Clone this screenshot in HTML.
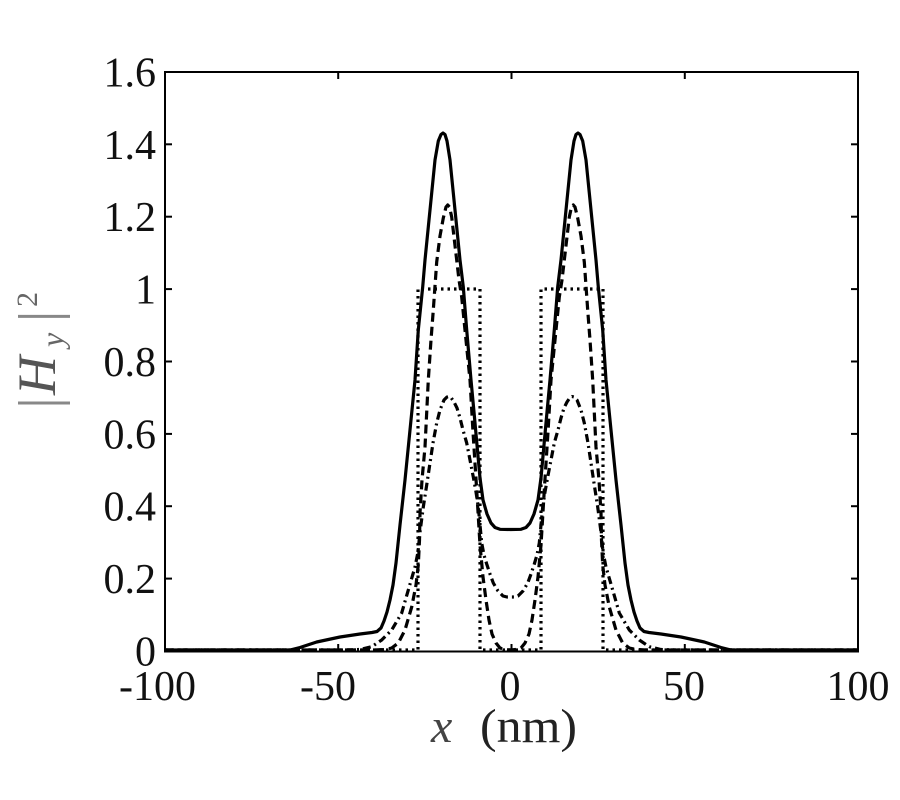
<!DOCTYPE html>
<html><head><meta charset="utf-8"><style>
html,body{margin:0;padding:0;background:#fff;}
svg{display:block;}
</style></head><body>
<svg width="900" height="800" viewBox="0 0 900 800" xmlns="http://www.w3.org/2000/svg">
<rect width="900" height="800" fill="#fff"/>
<g fill="none" stroke="#000" stroke-width="3.2" stroke-linejoin="round">
<!-- dotted -->
<path stroke-dasharray="2.5 4" d="M165,650 H418 V289 H480 V650 H541 V289 H603 V650 H858"/>
<!-- dash-dot -->
<polyline stroke-dasharray="8 4 2 4" points="165,650 345,650 360,649.5 371.7,646.7 381.7,640 391.7,630 401.7,613 408.3,590 415,567 418,552 420,532 423.3,507 426.7,485 430,463 433,443 436.7,423 440,410 444,400 447,397 449,396.5 451,397.5 454,402 457,408 460,418 463,430 466.7,443 470,460 473.3,477 476,492 478.3,507 480,525 481.7,543 484,555 486.7,564 490,574 493.3,583 498,591 503,596 507,597 510.5,597 514,597 518,596 523,591 527.7,583 531,574 534.3,564 537,555 539.3,543 541,525 542.7,507 545,492 547.7,477 551,460 554.3,443 558,430 561,418 564,408 567,402 570,397.5 572,396.5 574,397 577,400 581,410 584.3,423 588,443 591,463 594.3,485 597.7,507 601,532 603,552 606,567 612.7,590 619.3,613 629.3,630 639.3,640 649.3,646.7 661,649.5 676,650 858,650"/>
<!-- dashed -->
<polyline stroke-dasharray="9 5" points="165,650 375,650 385,649.5 391.7,648 398.3,643 405,630 411.7,607 416,585 418.3,565 419.5,540 420,513 422,480 425,447 428.3,380 431,340 433.3,310 436.7,262 440,236 443.3,218 446,207 447.7,205 449.5,207 451.7,217 454,237 456.7,260 459,280 461.7,297 466,340 470,380 473,432 476.7,490 480,545 483,577 486,600 489,620 492,634 496,643 500,648 505,649.5 510.5,650 516,649.5 521,648 525,643 529,634 532,620 535,600 538,577 541,545 544.3,490 548,432 551,380 555,340 559.3,297 562,280 564.3,260 567,237 569.3,217 571.5,207 573.3,205 575,207 577.7,218 581,236 584.3,262 587.7,310 590,340 592.7,380 596,447 599,480 601,513 601.5,540 602.7,565 605,585 609.3,607 616,630 622.7,643 629.3,648 636,649.5 646,650 858,650"/>
<!-- solid -->
<polyline points="165,650 290,650 300,647.5 316.7,642 340,637 360,634 372,632.5 377,631.5 381,628 384,621 387,612 390,600 393,585 396,563 400,525 405,480 410,430 415,380 418.3,330 422.7,287 425,260 428.3,227 431.7,193 435,160 438.3,141 441,134.5 443,133 445,134.5 447,141 450,160 453.3,193 456.7,227 460,260 463.3,287 466.7,330 471,380 474,412 477,445 480,478 483,500 487,514 491,523 495,527.5 500,529.3 510.5,529.5 521,529.3 526,527.5 530,523 534,514 538,500 541,478 544,445 547,412 550,380 554.3,330 557.7,287 561,260 564.3,227 567.7,193 571,160 574,141 576,134.5 578,133 580,134.5 582.7,141 586,160 589.3,193 592.7,227 596,260 598.3,287 602.7,330 606,380 611,430 616,480 621,525 625,563 628,585 631,600 634,612 637,621 640,628 644,631.5 649,632.5 661,634 681,637 704.3,642 721,647.5 731,650 858,650"/>
</g>
<!-- axes box -->
<rect x="165" y="72" width="693" height="579.5" fill="none" stroke="#000" stroke-width="2"/>
<line x1="165" y1="651.5" x2="858" y2="651.5" stroke="#000" stroke-width="2"/>
<!-- ticks -->
<g stroke="#000" stroke-width="2">
<line x1="165" y1="578.6" x2="172" y2="578.6"/><line x1="858" y1="578.6" x2="851" y2="578.6"/>
<line x1="165" y1="506.2" x2="172" y2="506.2"/><line x1="858" y1="506.2" x2="851" y2="506.2"/>
<line x1="165" y1="433.9" x2="172" y2="433.9"/><line x1="858" y1="433.9" x2="851" y2="433.9"/>
<line x1="165" y1="361.5" x2="172" y2="361.5"/><line x1="858" y1="361.5" x2="851" y2="361.5"/>
<line x1="165" y1="289.1" x2="172" y2="289.1"/><line x1="858" y1="289.1" x2="851" y2="289.1"/>
<line x1="165" y1="216.7" x2="172" y2="216.7"/><line x1="858" y1="216.7" x2="851" y2="216.7"/>
<line x1="165" y1="144.3" x2="172" y2="144.3"/><line x1="858" y1="144.3" x2="851" y2="144.3"/>
<line x1="338.2" y1="72" x2="338.2" y2="79"/><line x1="338.2" y1="651" x2="338.2" y2="644"/>
<line x1="511.5" y1="72" x2="511.5" y2="79"/><line x1="511.5" y1="651" x2="511.5" y2="644"/>
<line x1="684.8" y1="72" x2="684.8" y2="79"/><line x1="684.8" y1="651" x2="684.8" y2="644"/>
</g>
<!-- y tick labels -->
<g font-family="Liberation Serif, serif" font-size="42" fill="#111" text-anchor="end">
<text x="156" y="665.5">0</text>
<text x="156" y="593">0.2</text>
<text x="156" y="520.7">0.4</text>
<text x="156" y="448.4">0.6</text>
<text x="156" y="376">0.8</text>
<text x="156" y="303.6">1</text>
<text x="156" y="231.2">1.2</text>
<text x="156" y="158.8">1.4</text>
<text x="156" y="86.5">1.6</text>
</g>
<!-- x tick labels -->
<g font-family="Liberation Serif, serif" font-size="42" fill="#111" text-anchor="middle">
<text x="157.5" y="700">-100</text>
<text x="328" y="700">-50</text>
<text x="510" y="700">0</text>
<text x="684" y="700">50</text>
<text x="858" y="700">100</text>
</g>
<!-- x label -->
<text x="431" y="742" font-family="Liberation Serif, serif" font-size="48" font-style="italic" fill="#444">x</text>
<text x="480" y="742" font-family="Liberation Serif, serif" font-size="48" fill="#222" textLength="97" lengthAdjust="spacingAndGlyphs">(nm)</text>
<!-- y label rotated -->
<g transform="translate(55,403) rotate(-90)">
<line x1="0" y1="-37" x2="0" y2="15" stroke="#888" stroke-width="3"/>
<text x="8" y="0" font-family="Liberation Serif, serif" font-size="54" font-style="italic" fill="#555">H</text>
<text x="56" y="8" font-family="Liberation Serif, serif" font-size="32" font-style="italic" fill="#666">y</text>
<line x1="86.6" y1="-37" x2="86.6" y2="15" stroke="#888" stroke-width="3"/>
<text x="96" y="-18" font-family="Liberation Serif, serif" font-size="30" fill="#666">2</text>
</g>
</svg>
</body></html>
